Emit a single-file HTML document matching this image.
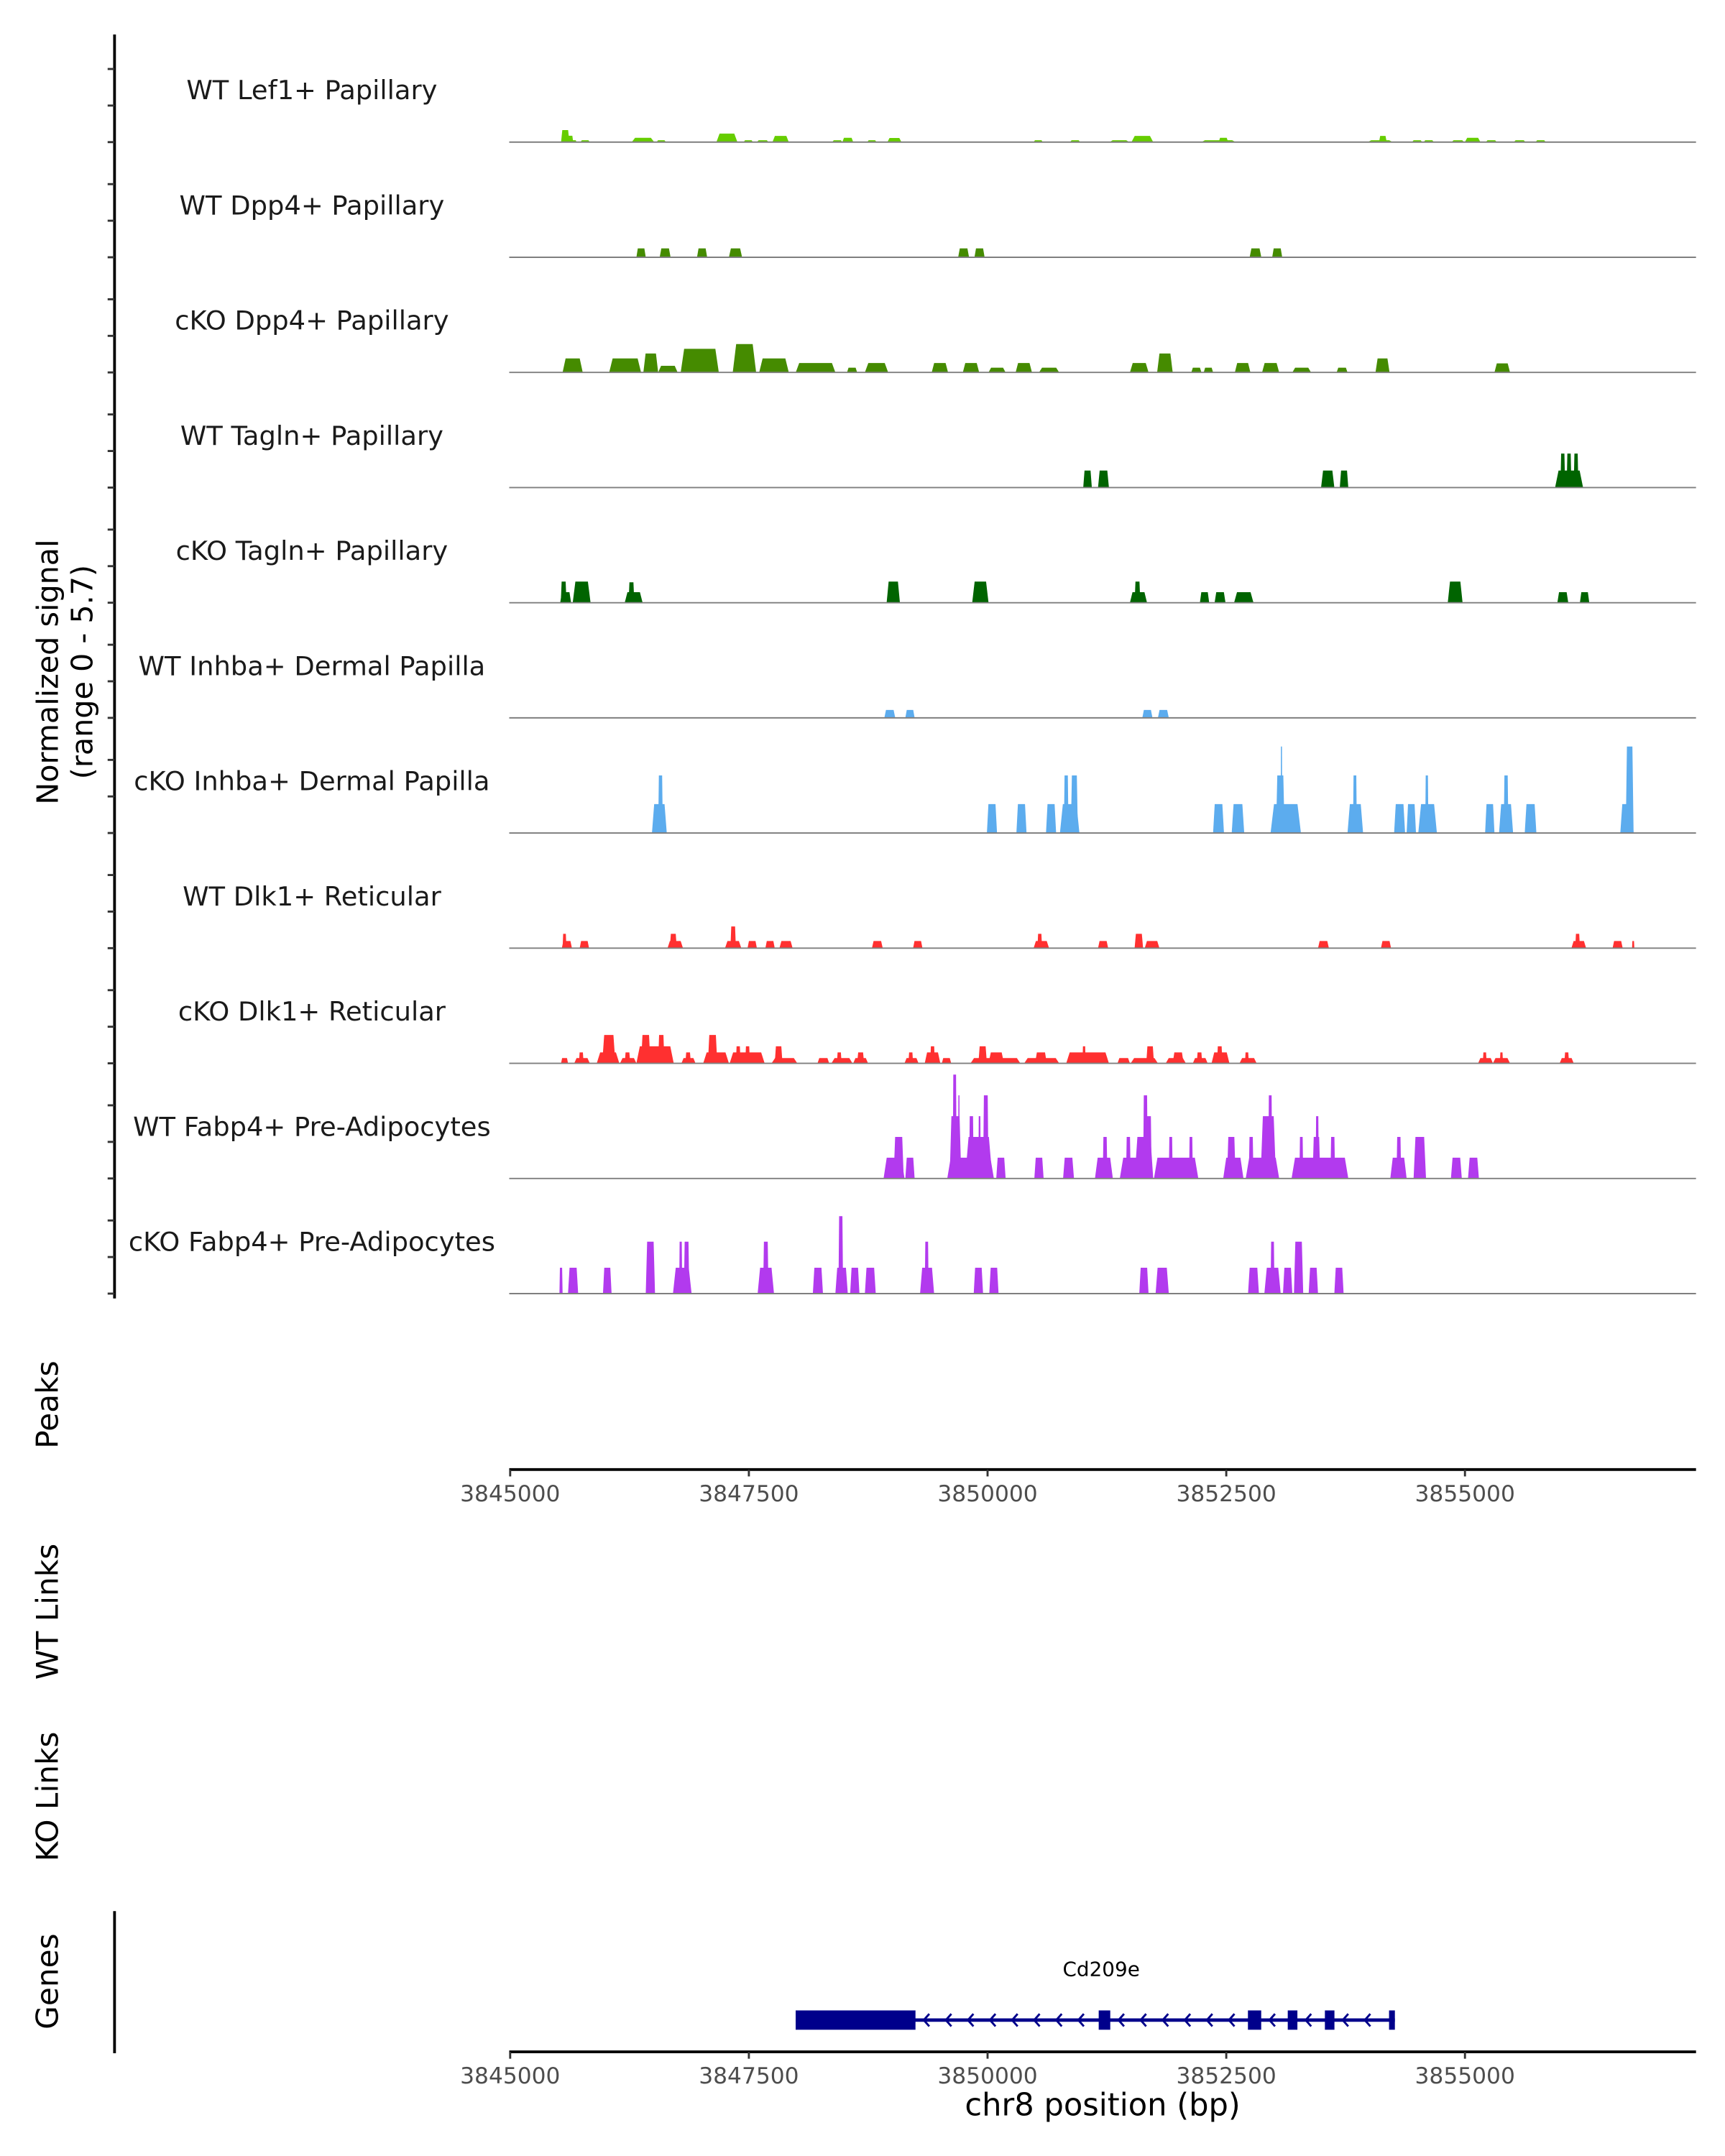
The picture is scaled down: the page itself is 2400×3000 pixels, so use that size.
<!DOCTYPE html>
<html><head><meta charset="utf-8"><style>
html,body{margin:0;padding:0;background:#fff;}
svg{display:block;}
text{font-family:"DejaVu Sans","Liberation Sans",sans-serif;}
</style></head><body>
<svg id="chart" width="2400" height="3000" viewBox="0 0 1250 1562.5" xmlns="http://www.w3.org/2000/svg">
<rect x="0" y="0" width="1250" height="1562.5" fill="#fff"/>
<g id="tracks"></g>
<g id="leftaxis"></g>
<text transform="translate(42,487) rotate(-90)" text-anchor="middle" font-size="21.5" fill="#000">Normalized signal</text>
<text transform="translate(67,487) rotate(-90)" text-anchor="middle" font-size="21.5" fill="#000">(range 0 - 5.7)</text>
<text transform="translate(42,1018) rotate(-90)" text-anchor="middle" font-size="22" fill="#000">Peaks</text>
<text transform="translate(42,1168) rotate(-90)" text-anchor="middle" font-size="22" fill="#000">WT Links</text>
<text transform="translate(42,1302) rotate(-90)" text-anchor="middle" font-size="22" fill="#000">KO Links</text>
<text transform="translate(42,1436) rotate(-90)" text-anchor="middle" font-size="22" fill="#000">Genes</text>
<line x1="83" y1="1385" x2="83" y2="1488" stroke="#000" stroke-width="2"/>
<g id="xaxis1"></g>
<g id="xaxis2"></g>
<g id="gene"></g>
<text x="798" y="1432" text-anchor="middle" font-size="14.5" fill="#000">Cd209e</text>
<text x="799" y="1533" text-anchor="middle" font-size="22.5" fill="#000">chr8 position (bp)</text>
</svg>
<script>
// ---- data ----
const regionStart = 3844990, regionEnd = 3857420;
const yMax = 5.7;
const xTicks = [3845000, 3847500, 3850000, 3852500, 3855000];
const trackNames = ["WT Lef1+ Papillary","WT Dpp4+ Papillary","cKO Dpp4+ Papillary","WT Tagln+ Papillary","cKO Tagln+ Papillary","WT Inhba+ Dermal Papilla","cKO Inhba+ Dermal Papilla","WT Dlk1+ Reticular","cKO Dlk1+ Reticular","WT Fabp4+ Pre-Adipocytes","cKO Fabp4+ Pre-Adipocytes"];
const trackColors = ["#66CD00","#458B00","#458B00","#006400","#006400","#5CACEE","#5CACEE","#FF3030","#FF3030","#B23AEE","#B23AEE"];
// peaks: [start bp, end bp, signal]
const lef1WT = [[3845533,3845620,0.64],[3845600,3845660,0.34],[3845640,3845695,0.1],[3845736,3845834,0.1],[3846273,3846509,0.23],[3846534,3846631,0.1],[3847160,3847380,0.45],[3847445,3847543,0.1],[3847584,3847706,0.1],[3847747,3847918,0.33],[3848373,3848479,0.1],[3848479,3848593,0.23],[3848740,3848837,0.1],[3848951,3849098,0.22],[3850482,3850579,0.1],[3850864,3850970,0.1],[3851279,3851483,0.1],[3851507,3851735,0.33],[3852240,3852598,0.1],[3852420,3852520,0.23],[3853982,3854243,0.1],[3854100,3854180,0.33],[3854446,3854552,0.1],[3854568,3854674,0.1],[3854861,3854991,0.1],[3854999,3855162,0.23],[3855219,3855333,0.1],[3855512,3855634,0.1],[3855740,3855846,0.1]];
const dpp4WT = [[3846322,3846420,0.47],[3846566,3846680,0.47],[3846957,3847063,0.47],[3847291,3847429,0.47],[3849692,3849806,0.47],[3849863,3849969,0.47],[3852745,3852867,0.47],[3852981,3853086,0.47]];
const dpp4KO = [[3845549,3845760,0.74],[3846037,3846371,0.74],[3846395,3846550,1.0],[3846550,3846754,0.35],[3846786,3847185,1.25],[3847331,3847576,1.5],[3847608,3847918,0.74],[3847991,3848406,0.5],[3848528,3848634,0.25],[3848715,3848959,0.5],[3849415,3849586,0.5],[3849741,3849912,0.5],[3850010,3850189,0.25],[3850294,3850465,0.5],[3850539,3850750,0.25],[3851491,3851686,0.5],[3851776,3851939,1.0],[3852134,3852240,0.25],[3852264,3852362,0.25],[3852590,3852753,0.5],[3852875,3853054,0.5],[3853192,3853388,0.25],[3853656,3853770,0.25],[3854063,3854210,0.74],[3855309,3855472,0.48]];
const taglnWT = [[3851002,3851092,0.9],[3851157,3851271,0.9],[3853493,3853632,0.9],[3853689,3853778,0.9],[3855944,3856237,0.9],[3856000,3856049,1.8],[3856065,3856115,1.8],[3856139,3856188,1.8]];
const taglnKO = [[3845524,3845638,0.56],[3845530,3845590,1.12],[3845655,3845842,1.12],[3846200,3846387,0.56],[3846240,3846300,1.08],[3848943,3849082,1.12],[3849839,3850010,1.12],[3851491,3851670,0.56],[3851540,3851600,1.12],[3852224,3852321,0.56],[3852378,3852492,0.56],[3852582,3852785,0.56],[3854820,3854975,1.12],[3855968,3856082,0.56],[3856204,3856302,0.56]];
const inhbaWT = [[3848919,3849033,0.42],[3849139,3849236,0.42],[3851621,3851727,0.42],[3851784,3851898,0.42]];
const inhbaKO = [[3846485,3846640,1.53],[3846550,3846599,3.05],[3849993,3850099,1.53],[3850302,3850408,1.53],[3850612,3850718,1.53],[3850758,3850962,1.53],[3850799,3850848,3.05],[3850872,3850946,3.05],[3852362,3852476,1.53],[3852557,3852688,1.53],[3852964,3853282,1.53],[3853021,3853111,3.05],[3853070,3853086,4.58],[3853770,3853933,1.53],[3853827,3853868,3.05],[3854258,3854373,1.53],[3854389,3854487,1.53],[3854511,3854706,1.53],[3854584,3854617,3.05],[3855211,3855309,1.53],[3855357,3855504,1.53],[3855406,3855455,3.05],[3855626,3855748,1.53],[3856627,3856766,1.53],[3856684,3856766,4.58]];
const dlk1WT = [[3845541,3845647,0.38],[3845549,3845589,0.76],[3845728,3845826,0.38],[3846648,3846810,0.38],[3846672,3846745,0.76],[3847250,3847421,0.38],[3847307,3847364,1.15],[3847486,3847584,0.38],[3847673,3847771,0.38],[3847820,3847958,0.38],[3848789,3848902,0.38],[3849220,3849318,0.38],[3850482,3850644,0.38],[3850522,3850571,0.76],[3851157,3851263,0.38],[3851540,3851629,0.76],[3851646,3851800,0.38],[3853461,3853575,0.38],[3854120,3854226,0.38],[3856115,3856269,0.38],[3856155,3856204,0.76],[3856546,3856652,0.38],[3856750,3856774,0.38]];
const dlk1KO = [[3845533,3845606,0.28],[3845671,3845834,0.28],[3845720,3845769,0.58],[3845907,3846143,0.58],[3845964,3846102,1.5],[3846151,3846322,0.28],[3846200,3846257,0.58],[3846322,3846713,0.9],[3846371,3846469,1.5],[3846550,3846615,1.5],[3846794,3846941,0.28],[3846835,3846892,0.58],[3847022,3847291,0.58],[3847071,3847169,1.5],[3847299,3847665,0.58],[3847364,3847413,0.9],[3847462,3847511,0.9],[3847738,3848007,0.28],[3847771,3847852,0.9],[3848219,3848341,0.28],[3848365,3848585,0.28],[3848422,3848471,0.58],[3848593,3848748,0.28],[3848634,3848707,0.58],[3849130,3849277,0.28],[3849171,3849220,0.58],[3849342,3849505,0.58],[3849399,3849448,0.9],[3849521,3849619,0.28],[3849822,3850343,0.28],[3849904,3849993,0.9],[3850010,3850172,0.58],[3850384,3850750,0.28],[3850498,3850620,0.58],[3850824,3851271,0.58],[3850994,3851027,0.9],[3851361,3851491,0.28],[3851499,3851784,0.28],[3851662,3851743,0.9],[3851866,3852077,0.28],[3851939,3852053,0.58],[3852150,3852305,0.28],[3852191,3852248,0.58],[3852346,3852533,0.58],[3852403,3852460,0.9],[3852639,3852818,0.28],[3852696,3852736,0.58],[3855138,3855293,0.28],[3855187,3855227,0.58],[3855293,3855472,0.28],[3855366,3855398,0.58],[3855992,3856139,0.28],[3856041,3856090,0.58]];
const fabp4WT = [[3848911,3849130,1.1],[3849016,3849122,2.2],[3849139,3849236,1.1],[3849578,3850066,1.1],[3849603,3849725,3.3],[3849635,3849676,5.5],[3849692,3849708,4.4],[3849765,3850050,2.2],[3849806,3849855,3.3],[3849904,3849928,3.3],[3849953,3850010,4.4],[3850091,3850189,1.1],[3850490,3850587,1.1],[3850791,3850905,1.1],[3851125,3851312,1.1],[3851206,3851255,2.2],[3851385,3851735,1.1],[3851450,3851499,2.2],[3851540,3851735,2.2],[3851629,3851678,4.4],[3851662,3851719,3.3],[3851743,3852207,1.1],[3851898,3851939,2.2],[3852110,3852150,2.2],[3852468,3852680,1.1],[3852508,3852598,2.2],[3852704,3853054,1.1],[3852736,3852785,2.2],[3852859,3853021,3.3],[3852940,3852981,4.4],[3853184,3853778,1.1],[3853266,3853306,2.2],[3853404,3853485,2.2],[3853436,3853469,3.3],[3853591,3853640,2.2],[3854218,3854389,1.1],[3854283,3854332,2.2],[3854462,3854592,2.2],[3854853,3854967,1.1],[3855032,3855146,1.1]];
const fabp4KO = [[3845516,3845549,1.37],[3845606,3845712,1.37],[3845972,3846062,1.37],[3846420,3846517,2.75],[3846705,3846900,1.37],[3846770,3846802,2.75],[3846819,3846876,2.75],[3847592,3847763,1.37],[3847649,3847706,2.75],[3848170,3848276,1.37],[3848406,3848536,1.37],[3848438,3848487,4.1],[3848561,3848658,1.37],[3848715,3848829,1.37],[3849293,3849440,1.37],[3849342,3849383,2.75],[3849855,3849953,1.37],[3850018,3850115,1.37],[3851589,3851686,1.37],[3851760,3851898,1.37],[3852728,3852842,1.37],[3852899,3853070,1.37],[3852964,3853005,2.75],[3853094,3853192,1.37],[3853209,3853306,2.75],[3853363,3853461,1.37],[3853632,3853729,1.37]];
const trackPeaks = [lef1WT,dpp4WT,dpp4KO,taglnWT,taglnKO,inhbaWT,inhbaKO,dlk1WT,dlk1KO,fabp4WT,fabp4KO];
// gene model
const geneStart = 3847990, geneEnd = 3854266;
const exonStarts = [3847990,3851164,3852727,3853144,3853533,3854205];
const exonEnds   = [3849245,3851285,3852866,3853245,3853633,3854266];

// ---- layout / scales ----
const NS = "http://www.w3.org/2000/svg";
const plotX0 = 369, plotX1 = 1229;
const firstBase = 103, trackStep = 83.45, trackH = 78;
function xs(bp){ return plotX0 + (bp - regionStart) / (regionEnd - regionStart) * (plotX1 - plotX0); }
function ys(v, base){ return base - v / yMax * trackH; }
function mk(tag, attrs, parent){ const e = document.createElementNS(NS, tag); for (const k in attrs) e.setAttribute(k, attrs[k]); parent.appendChild(e); return e; }

const tracksG = document.getElementById('tracks');
const leftG = document.getElementById('leftaxis');
mk('line', {x1:83, y1:25, x2:83, y2:941, stroke:'#000', 'stroke-width':2}, leftG);
trackNames.forEach((name, i) => {
  const base = firstBase + i * trackStep;
  const g = mk('g', {}, tracksG);
  
  
  const lbl = mk('text', {x:226, y:base - 31, 'text-anchor':'middle', 'font-size':19.2, fill:'#1a1a1a'}, g);
  lbl.textContent = name;
  
  
  trackPeaks[i].forEach(p => {
    const x0 = xs(p[0]), x1 = xs(p[1]);
    const w = x1 - x0, s = Math.min(w * 0.15, 2.5);
    const yt = ys(p[2], base);
    const poly = mk('polygon', {points:`${x0},${base} ${x0+s},${yt} ${x1-s},${yt} ${x1},${base}`, fill:trackColors[i]}, g);
    
    
  });
  const bl = mk('line', {x1:plotX0, y1:base, x2:plotX1, y2:base, stroke:'#7f7f7f', 'stroke-width':1}, g);
  
  
  [0, 26.5, 53].forEach(off => {
    const t = mk('line', {x1:78, y1:base - off, x2:83, y2:base - off, stroke:'#333', 'stroke-width':1.5}, leftG);
    
    
  });
});

function drawXAxis(id, y){
  const g = document.getElementById(id);
  mk('line', {x1:plotX0, y1:y, x2:plotX1, y2:y, stroke:'#000', 'stroke-width':2}, g);
  xTicks.forEach(t => {
    const x = xs(t);
    const tk = mk('line', {x1:x, y1:y, x2:x, y2:y + 5, stroke:'#333', 'stroke-width':1.5}, g);
    
    
    const tl = mk('text', {x:x, y:y + 23, 'text-anchor':'middle', 'font-size':16.3, fill:'#4d4d4d'}, g);
    tl.textContent = t;
    
    
  });
}
drawXAxis('xaxis1', 1065);
drawXAxis('xaxis2', 1487);

// gene
const geneG = document.getElementById('gene');
const gy = 1464, navy = '#00008B';
mk('line', {x1:xs(geneStart), y1:gy, x2:xs(geneEnd), y2:gy, stroke:navy, 'stroke-width':2.5}, geneG);
exonStarts.forEach((s, i) => {
  const r = mk('rect', {x:xs(s), y:gy - 7, width:Math.max(xs(exonEnds[i]) - xs(s), 3.5), height:14, fill:navy}, geneG);
  
  
});
for (let i = 0; i < exonStarts.length - 1; i++) {
  const a = xs(exonEnds[i]) + 4, b = xs(exonStarts[i+1]) - 2;
  for (let x = a + 6; x < b; x += 16) {
    const c = mk('polyline', {points:`${x},${gy-4.5} ${x-4},${gy} ${x},${gy+4.5}`, fill:'none', stroke:navy, 'stroke-width':1.5}, geneG);
    
    
  }
}
</script>
</body></html>
